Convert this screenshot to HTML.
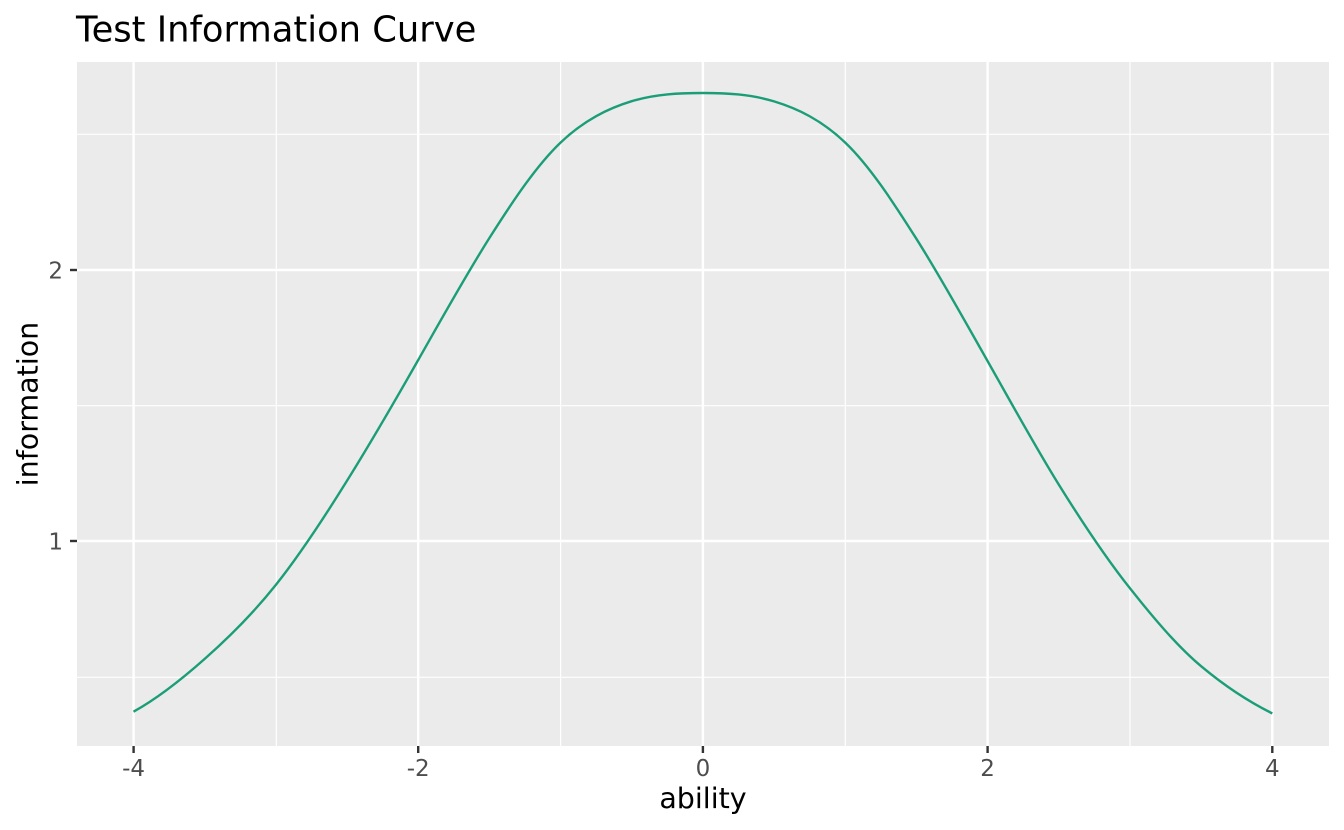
<!DOCTYPE html>
<html>
<head>
<meta charset="utf-8">
<style>
  html, body { margin: 0; padding: 0; background: #ffffff; }
  svg { display: block; }
  text { font-family: "DejaVu Sans", "Liberation Sans", sans-serif; }
</style>
</head>
<body>
<svg width="1344" height="830" viewBox="0 0 1344 830" xmlns="http://www.w3.org/2000/svg">
  <rect x="0" y="0" width="1344" height="830" fill="#ffffff"/>
  <!-- panel -->
  <rect x="77" y="62" width="1252" height="684" fill="#EBEBEB"/>
  <!-- minor grid -->
  <g stroke="#ffffff" stroke-width="1.2" fill="none">
    <line x1="77" x2="1329" y1="677.3" y2="677.3"/>
    <line x1="77" x2="1329" y1="405.7" y2="405.7"/>
    <line x1="77" x2="1329" y1="134.3" y2="134.3"/>
    <line x1="276.3" x2="276.3" y1="62" y2="746"/>
    <line x1="560.6" x2="560.6" y1="62" y2="746"/>
    <line x1="845.3" x2="845.3" y1="62" y2="746"/>
    <line x1="1130" x2="1130" y1="62" y2="746"/>
  </g>
  <!-- major grid -->
  <g stroke="#ffffff" stroke-width="2.4" fill="none">
    <line x1="77" x2="1329" y1="541" y2="541"/>
    <line x1="77" x2="1329" y1="270" y2="270"/>
    <line x1="133.6" x2="133.6" y1="62" y2="746"/>
    <line x1="418.2" x2="418.2" y1="62" y2="746"/>
    <line x1="702.9" x2="702.9" y1="62" y2="746"/>
    <line x1="987.6" x2="987.6" y1="62" y2="746"/>
    <line x1="1272.3" x2="1272.3" y1="62" y2="746"/>
  </g>
  <!-- curve -->
  <path fill="none" stroke="#1B9E77" stroke-width="2.4" stroke-linejoin="round" stroke-linecap="butt"
    d="M133.5,711.73
       C157.2,698.63 180.98,679.95 204.7,658.9
       C228.43,637.85 252.13,614.76 275.85,584.9
       C299.58,555.04 323.28,518.97 347,480.8
       C370.73,442.63 394.48,401.78 418.2,360
       C441.93,318.22 465.68,275.49 489.4,238
       C513.13,200.51 536.83,165.18 560.55,142.6
       C584.28,120.02 607.98,108.43 631.7,101.2
       C655.43,93.97 679.18,93 702.9,93
       C726.63,93 750.38,94.17 774.1,101.4
       C797.83,108.63 821.53,120.02 845.25,142.6
       C868.98,165.18 892.68,201.31 916.4,238.8
       C940.13,276.29 963.88,319.32 987.6,361.1
       C1011.33,402.88 1035.08,446.43 1058.8,484.6
       C1082.53,522.77 1106.23,558.44 1129.95,588.3
       C1153.68,618.16 1177.38,646.33 1201.1,666.2
       C1224.83,686.07 1248.58,701.66 1272.3,713.4"/>
  <!-- axis ticks -->
  <g stroke="#333333" stroke-width="2.4">
    <line x1="133.6" x2="133.6" y1="746" y2="753"/>
    <line x1="418.2" x2="418.2" y1="746" y2="753"/>
    <line x1="702.9" x2="702.9" y1="746" y2="753"/>
    <line x1="987.6" x2="987.6" y1="746" y2="753"/>
    <line x1="1272.3" x2="1272.3" y1="746" y2="753"/>
    <line x1="70" x2="77" y1="541" y2="541"/>
    <line x1="70" x2="77" y1="270" y2="270"/>
  </g>
  <!-- tick labels -->
  <g fill="#4D4D4D" font-size="23" text-anchor="middle">
    <text x="133.6" y="776">-4</text>
    <text x="418.2" y="776">-2</text>
    <text x="702.9" y="776">0</text>
    <text x="987.6" y="776">2</text>
    <text x="1272.3" y="776">4</text>
  </g>
  <g fill="#4D4D4D" font-size="23" text-anchor="end">
    <text x="63" y="549.3">1</text>
    <text x="63" y="278.3">2</text>
  </g>
  <!-- axis titles -->
  <text x="703" y="808" font-size="28.5" fill="#000000" text-anchor="middle">ability</text>
  <text transform="translate(37.3,404) rotate(-90)" x="0" y="0" font-size="28.5" fill="#000000" text-anchor="middle">information</text>
  <!-- title -->
  <text x="76" y="41.7" font-size="35.3" fill="#000000">Test Information Curve</text>
</svg>
</body>
</html>
